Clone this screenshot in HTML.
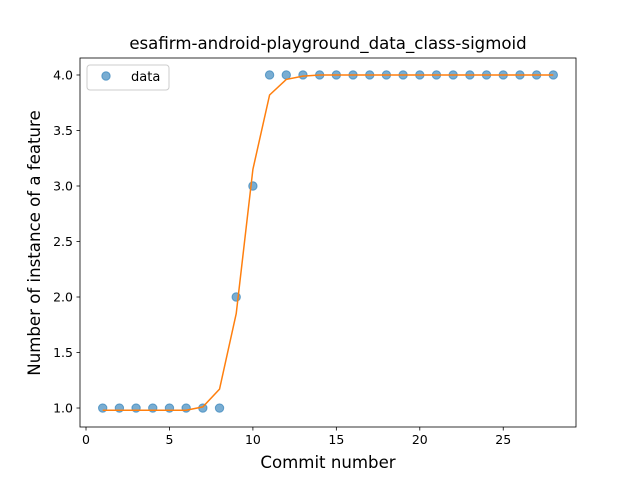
<!DOCTYPE html>
<html><head><meta charset="utf-8"><style>
body{margin:0;background:#fff}
svg text{font-family:"DejaVu Sans","Liberation Sans",sans-serif;fill:#000}
</style></head><body>
<svg id="chart" width="640" height="480">
<rect width="640" height="480" fill="#fff"/>
<text x="328" y="49" font-size="16.6" text-anchor="middle">esafirm-android-playground_data_class-sigmoid</text>
<g id="plot"></g>
<text x="328" y="468" font-size="16.6" text-anchor="middle">Commit number</text>
<text transform="translate(40,243) rotate(-90)" font-size="16.6" text-anchor="middle">Number of instance of a feature</text>
<g>
<rect x="87" y="65" width="82" height="25" rx="3" fill="#fff" stroke="#ccc"/>
<circle cx="106" cy="76" r="4.2" fill="#1f77b4" fill-opacity="0.6" stroke="#1f77b4" stroke-opacity="0.6"/>
<text x="131" y="81" font-size="13">data</text>
</g>
</svg>
<script>
const xs=[1,2,3,4,5,6,7,8,9,10,11,12,13,14,15,16,17,18,19,20,21,22,23,24,25,26,27,28];
const dataVals=[1,1,1,1,1,1,1,1,2,3,4,4,4,4,4,4,4,4,4,4,4,4,4,4,4,4,4,4];
const fitVals=[0.98,0.98,0.98,0.98,0.98,0.98,1.01,1.17,1.85,3.15,3.82,3.96,3.99,4,4,4,4,4,4,4,4,4,4,4,4,4,4,4];
const xTicks=[0,5,10,15,20,25];
const yTicks=[1.0,1.5,2.0,2.5,3.0,3.5,4.0];
const L=80,R=576,T=58,B=427,x0=-0.36,x1=29.36,y0=0.829,y1=4.153;
const sx=v=>L+(v-x0)/(x1-x0)*(R-L);
const sy=v=>B-(v-y0)/(y1-y0)*(B-T);
const NS="http://www.w3.org/2000/svg";
const g=document.getElementById('plot');
function mk(t,a){const e=document.createElementNS(NS,t);for(const k in a)e.setAttribute(k,a[k]);g.appendChild(e);return e;}
xTicks.forEach(v=>{
 const l=mk('line',{x1:sx(v),x2:sx(v),y1:B,y2:B+3.5,stroke:'#000','stroke-width':0.8});
 
 
 const t=mk('text',{x:sx(v),y:B+17,'font-size':12.5,'text-anchor':'middle'});t.textContent=v;
 
 
});
yTicks.forEach(v=>{
 const l=mk('line',{x1:L-3.5,x2:L,y1:sy(v),y2:sy(v),stroke:'#000','stroke-width':0.8});
 
 
 const t=mk('text',{x:L-7,y:sy(v)+4.5,'font-size':12.5,'text-anchor':'end'});t.textContent=v.toFixed(1);
 
 
});
xs.forEach((x,i)=>{
 const c=mk('circle',{cx:sx(x),cy:sy(dataVals[i]),r:4.2,fill:'#1f77b4','fill-opacity':0.6,stroke:'#1f77b4','stroke-opacity':0.6});
 
 
});
const p=mk('polyline',{points:xs.map((x,i)=>sx(x)+','+sy(fitVals[i])).join(' '),fill:'none',stroke:'#ff7f0e','stroke-width':1.5});


const f=mk('rect',{x:L,y:T,width:R-L,height:B-T,fill:'none',stroke:'#000','stroke-width':0.8});


</script>
</body></html>
